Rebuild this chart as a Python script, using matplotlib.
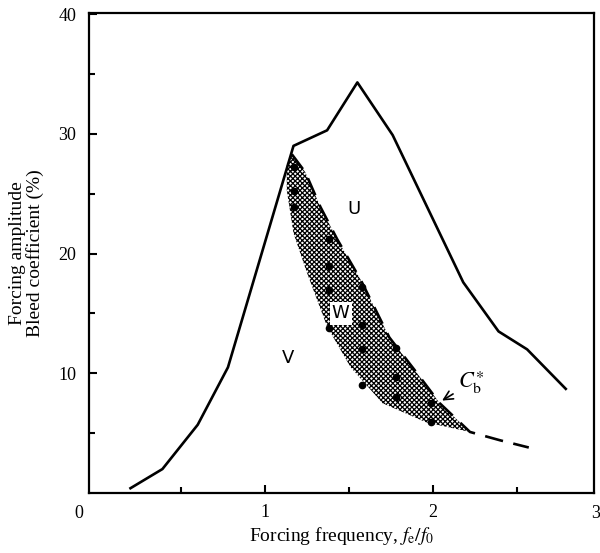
import matplotlib
matplotlib.use("Agg")
import matplotlib.pyplot as plt

# boundary of the unforced / forced regions
freq = [0.20, 0.39, 0.60, 0.78, 1.17, 1.37, 1.55, 1.76, 2.18, 2.39, 2.56, 2.79]
amp = [0.4, 2.0, 5.7, 10.5, 29.0, 30.3, 34.3, 29.9, 17.6, 13.5, 12.0, 8.7]

# C_b* curve (right edge of region W, dashed beyond it)
cb_freq = [1.16, 1.24, 1.33, 1.43, 1.57, 1.74, 1.90, 2.04, 2.16, 2.22, 2.40, 2.57]
cb_amp = [28.3, 26.8, 23.9, 21.2, 17.8, 13.0, 10.1, 7.5, 5.9, 5.1, 4.4, 3.8]
n_band = 10  # points of the C_b* curve that bound region W

# left edge of region W
w_left_freq = [1.13, 1.13, 1.17, 1.25, 1.37, 1.51, 1.70, 1.96, 2.22]
w_left_amp = [27.5, 25.3, 21.7, 18.4, 13.9, 10.5, 7.5, 5.9, 5.1]

# measured points inside W
pt_freq = [1.17, 1.17, 1.17, 1.38, 1.38, 1.38, 1.38,
           1.58, 1.58, 1.58, 1.58, 1.78, 1.78, 1.78, 1.99, 1.99]
pt_amp = [27.2, 25.2, 23.9, 21.2, 19.0, 17.0, 13.8,
          17.2, 14.0, 12.0, 9.0, 12.1, 9.7, 8.0, 7.5, 5.9]

plt.rcParams['font.family'] = 'Liberation Serif'
plt.rcParams['mathtext.fontset'] = 'stix'
plt.rcParams['hatch.linewidth'] = 0.9

fig = plt.figure(figsize=(6, 5.53), dpi=100)
ax = fig.add_axes([0.148, 0.1085, 0.842, 0.868])

# shaded region W
poly_x = cb_freq[:n_band] + w_left_freq[::-1]
poly_y = cb_amp[:n_band] + w_left_amp[::-1]
ax.fill(poly_x, poly_y, facecolor='white', edgecolor='black', lw=0,
        hatch='xxxxxxx', zorder=1)
ax.plot(pt_freq, pt_amp, 'o', color='black', ms=4.5, zorder=3)

ax.plot(freq, amp, '-', color='black', lw=1.9, zorder=4)
ax.plot(cb_freq, cb_amp, color='black', lw=1.9, dashes=(7, 4), zorder=4)

ax.text(1.53, 23.7, 'U', family='DejaVu Sans', fontsize=13,
        ha='center', va='center')
ax.text(1.14, 11.3, 'V', family='DejaVu Sans', fontsize=13,
        ha='center', va='center')
ax.text(1.45, 15.0, 'W', family='DejaVu Sans', fontsize=13,
        ha='center', va='center', zorder=5,
        bbox=dict(facecolor='white', edgecolor='none', pad=1.5))
ax.annotate(r'$C_{\mathrm{b}}^{\ast}$', xy=(2.04, 7.6), xytext=(2.15, 9.2),
            fontsize=16, ha='left', va='center',
            arrowprops=dict(arrowstyle='->', color='black', lw=1.2))

ax.set_xlim(-0.048, 2.958)
ax.set_ylim(0, 40.1)
ax.set_xticks([1, 2])
ax.set_xticks([0.5, 1.5, 2.5], minor=True)
ax.set_yticks([10, 20, 30, 40])
ax.set_yticks([5, 15, 25, 35], minor=True)
ax.tick_params(which='both', direction='in', width=1.5, labelsize=13)
ax.tick_params(which='major', length=6)
ax.tick_params(which='minor', length=4)
ax.tick_params(axis='x', pad=8)
ax.tick_params(axis='y', pad=9)
ax.text(-0.107, -1.0, '0', fontsize=13, ha='center', va='top', clip_on=False)
ax.text(2.965, -1.0, '3', fontsize=13, ha='center', va='top', clip_on=False)
for s in ax.spines.values():
    s.set_linewidth(1.6)

ax.set_xlabel(r'Forcing frequency, $f_{\mathrm{e}}/f_{0}$', fontsize=14,
              labelpad=3)
ax.set_ylabel('Forcing amplitude\nBleed coefficient (%)', fontsize=14,
              linespacing=1.0, labelpad=10)

fig.savefig('out.png', dpi=100)
